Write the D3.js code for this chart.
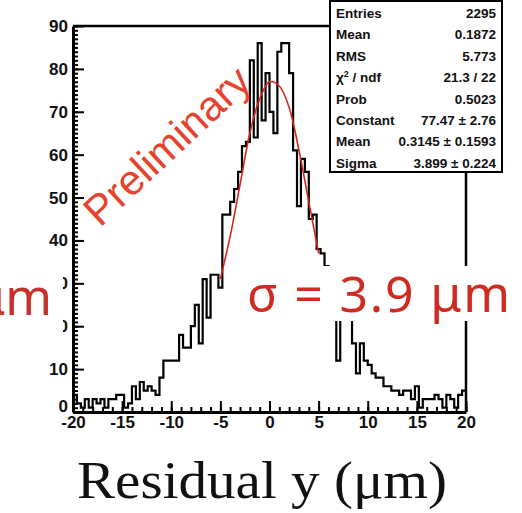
<!DOCTYPE html>
<html>
<head>
<meta charset="utf-8">
<script src="https://cdn.jsdelivr.net/npm/d3@7"></script>
<style>
  body { margin: 0; background: #fff; }
  svg { display: block; }
</style>
</head>
<body>
<div id="chart"></div>
<script>
// histogram: 100 bins of 0.4 from -20 to 20
var binStart = -20, binWidth = 0.4;
var counts = [
  4, 2, 1, 3, 1, 3, 2, 3, 1, 3,
  3, 4, 4, 1, 2, 6, 3, 7, 5, 6,
  5, 4, 8, 12, 12, 12, 12, 18, 15, 15,
  20, 25, 16, 31, 22, 32, 32, 29, 46, 46,
  49, 52, 56, 62, 63, 82, 64, 86, 68, 79,
  70, 65, 84, 86, 86, 79, 61, 48, 59, 56,
  45, 46, 38, 37, 34, 33, 30, 12, 25, 24,
  22, 16, 9, 16, 12, 11, 9, 8, 8, 6,
  6, 5, 5, 4, 5, 5, 3, 6, 1, 3,
  3, 3, 4, 3, 1, 4, 3, 1, 4, 5
];

// gaussian fit curve (fit range -5..5)
var fitX = [-5, -4, -3, -2, -1, 0, 1, 2, 3, 4, 5];
var fitY = [31, 41, 53, 65, 73, 77, 76, 71, 61, 49, 37];

var xTicks = [-20, -15, -10, -5, 0, 5, 10, 15, 20];
var yTicks = [0, 10, 20, 30, 40, 50, 60, 70, 80, 90];

var statNames = ["Entries", "Mean", "RMS", "chi2", "Prob", "Constant", "Mean", "Sigma"];
var statValues = ["2295", "0.1872", "5.773", "21.3 / 22", "0.5023", "77.47 \u00b1 2.76", "0.3145 \u00b1 0.1593", "3.899 \u00b1 0.224"];

var W = 522, H = 513;
var svg = d3.select("#chart").append("svg")
    .attr("width", W)
    .attr("height", H);

var x = d3.scaleLinear().domain([-20, 20]).range([73, 466]);
var y = d3.scaleLinear().domain([0, 90]).range([412, 26]);

// histogram outline
var pts = counts.map(function(c, i) { return [binStart + i * binWidth, c]; });
pts.push([20, counts[counts.length - 1]]);
svg.append("path")
    .datum(pts)
    .attr("fill", "none")
    .attr("stroke", "#000")
    .attr("stroke-width", 2.2)
    .attr("d", d3.line()
      .x(function(d) { return x(d[0]); })
      .y(function(d) { return y(d[1]); })
      .curve(d3.curveStepAfter));

// fit
svg.append("path")
    .datum(fitX.map(function(v, i) { return [v, fitY[i]]; }))
    .attr("fill", "none")
    .attr("stroke", "#d9261c")
    .attr("stroke-width", 1.6)
    .attr("d", d3.line()
      .x(function(d) { return x(d[0]); })
      .y(function(d) { return y(d[1]); })
      .curve(d3.curveCatmullRom));

// frame top / right
svg.append("line").attr("x1", 73).attr("x2", 466).attr("y1", 26).attr("y2", 26)
    .attr("stroke", "#000").attr("stroke-width", 2.5);
svg.append("line").attr("x1", 466).attr("x2", 466).attr("y1", 26).attr("y2", 412)
    .attr("stroke", "#000").attr("stroke-width", 2.5);

// x axis
var xMinor = svg.append("g").attr("transform", "translate(0,412)")
    .call(d3.axisBottom(x).tickValues(d3.range(-20, 21, 1)).tickSize(-5).tickSizeOuter(0).tickFormat(""));
xMinor.select(".domain").remove();
var xAxis = svg.append("g").attr("transform", "translate(0,412)")
    .call(d3.axisBottom(x).tickValues(xTicks).tickSize(-11).tickSizeOuter(0).tickPadding(4)
      .tickFormat(function(d) { return String(d); }));

// y axis
var yMinor = svg.append("g").attr("transform", "translate(73,0)")
    .call(d3.axisLeft(y).tickValues(d3.range(0, 91, 1)).tickSize(-5).tickSizeOuter(0).tickFormat(""));
yMinor.select(".domain").remove();
var yAxis = svg.append("g").attr("transform", "translate(73,0)")
    .call(d3.axisLeft(y).tickValues(yTicks).tickSize(-11).tickSizeOuter(0).tickPadding(5)
      .tickFormat(function(d) { return String(d); }));
// the "0" sits a little higher, as in the ROOT canvas
yAxis.selectAll(".tick").filter(function(d) { return d === 0; })
    .select("text").attr("dy", "-0.05em");

svg.selectAll(".tick line").attr("stroke-width", 2);
svg.selectAll(".domain").attr("stroke-width", 3);
svg.selectAll(".tick text")
    .style("font-family", "'Liberation Sans', Arial, sans-serif")
    .style("font-weight", "bold")
    .style("font-size", "17px")
    .attr("fill", "#111");

// Preliminary
svg.append("text")
    .attr("transform", "translate(100,228) rotate(-43)")
    .style("font-family", "'Liberation Sans', Arial, sans-serif")
    .style("font-size", "42px")
    .attr("fill", "#e5432d")
    .text("Preliminary");

// stats box
svg.append("rect")
    .attr("x", 330).attr("y", 1).attr("width", 172).attr("height", 171)
    .attr("fill", "#fff").attr("stroke", "#000").attr("stroke-width", 2);
var stats = svg.append("g")
    .style("font-family", "'Liberation Sans', Arial, sans-serif")
    .style("font-weight", "bold")
    .style("font-size", "13.5px")
    .attr("fill", "#111");
statNames.forEach(function(n, i) {
  var yy = 18 + i * 21.4;
  var t = stats.append("text").attr("x", 336).attr("y", yy);
  if (n === "chi2") {
    t.append("tspan").text("\u03c7");
    t.append("tspan").attr("dy", -5).style("font-size", "9px").text("2");
    t.append("tspan").attr("dy", 5).text(" / ndf");
  } else {
    t.text(n);
  }
  stats.append("text").attr("x", 496).attr("y", yy)
      .attr("text-anchor", "end").text(statValues[i]);
});

// overlaid labels with white background
svg.append("rect").attr("x", 244).attr("y", 266).attr("width", 278).attr("height", 55).attr("fill", "#fff");
svg.append("text")
    .attr("x", 247).attr("y", 312)
    .attr("textLength", 263).attr("lengthAdjust", "spacing")
    .style("font-family", "'Noto Sans', 'Open Sans', sans-serif")
    .style("font-size", "50px")
    .attr("fill", "#cf2b20")
    .text("\u03c3 = 3.9 \u03bcm");

// tail of a second label that runs off the left edge of the slide
svg.append("rect").attr("x", 0).attr("y", 262).attr("width", 63).attr("height", 80).attr("fill", "#fff");
svg.append("text")
    .attr("x", 52).attr("y", 315)
    .attr("text-anchor", "end")
    .style("font-family", "'Noto Sans', 'Open Sans', sans-serif")
    .style("font-size", "50px")
    .attr("fill", "#c8302a")
    .text("\u03bcm");

// x title
svg.append("text")
    .attr("x", 262).attr("y", 498)
    .attr("text-anchor", "middle")
    .attr("textLength", 370).attr("lengthAdjust", "spacingAndGlyphs")
    .style("font-family", "'Liberation Serif', 'Times New Roman', serif")
    .style("font-size", "53px")
    .attr("fill", "#111")
    .text("Residual y (\u03bcm)");
</script>
</body>
</html>
